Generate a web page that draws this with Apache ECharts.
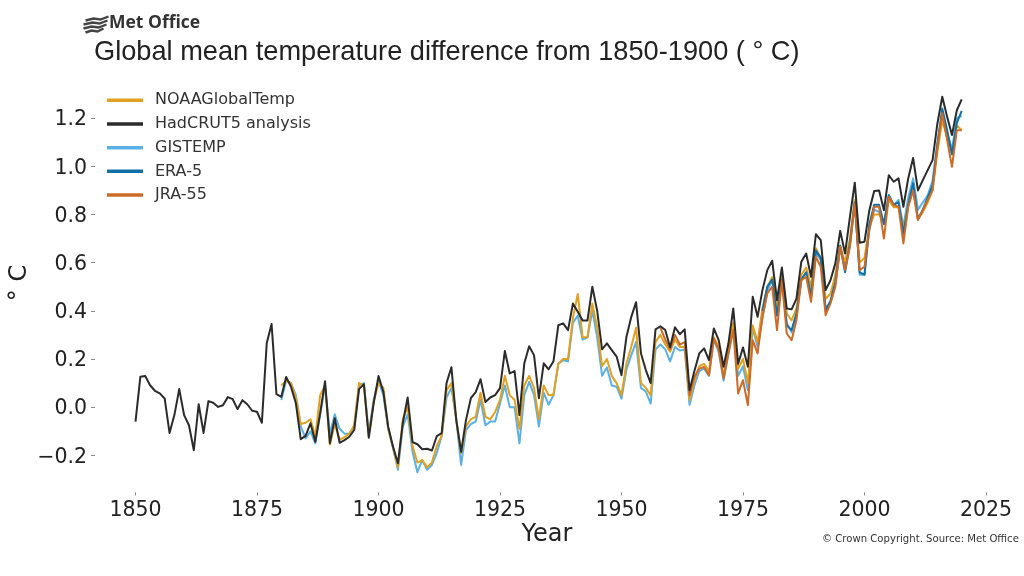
<!DOCTYPE html>
<html><head><meta charset="utf-8">
<style>html,body{margin:0;padding:0;background:#fff}#c{width:1024px;height:576px}</style>
<script src="https://cdn.jsdelivr.net/npm/echarts@6/dist/echarts.min.js"></script>
</head><body><div id="c"></div>
<script>
const hadcrutStart = 1850;
const hadcrut = [
-.06,.126,.129,.091,.068,.057,.036,-.107,-.033,.075,
-.033,-.075,-.179,.012,-.107,.025,.018,.001,.008,.042,
.033,-.008,.029,.012,-.015,-.019,-.065,.265,.345,.054,
.043,.125,.084,.016,-.133,-.119,-.067,-.144,-.025,.108,
-.15,-.046,-.148,-.137,-.123,-.095,.075,.095,-.127,.016,
.129,.064,-.082,-.165,-.233,-.066,.04,-.145,-.154,-.175,
-.173,-.18,-.12,-.108,.1,.166,-.054,-.186,-.054,.037,
.062,.116,.021,.04,.05,.079,.233,.14,.15,-.033,
.182,.253,.216,.037,.182,.157,.19,.34,.348,.32,
.43,.396,.36,.36,.5,.40,.24,.265,.237,.21,
.133,.29,.374,.436,.224,.154,.1,.323,.336,.32,
.249,.332,.303,.323,.07,.15,.223,.244,.195,.327,
.278,.168,.264,.41,.18,.248,.168,.458,.375,.486,
.569,.608,.444,.58,.41,.406,.451,.604,.638,.541,
.718,.694,.486,.527,.597,.732,.638,.79,.932,.683,
.687,.818,.898,.9,.818,.963,.936,.95,.832,.95,
1.035,.9,.943,.984,1.026,1.178,1.289,1.206,1.13,1.233,
1.278];
const noaaStart = 1880;
const noaa = [
.09,.11,.10,.04,-.07,-.065,-.05,-.12,.05,.09,
-.155,-.07,-.135,-.125,-.11,-.075,.10,.09,-.12,.02,
.10,.08,-.09,-.17,-.25,-.05,.0,-.16,-.23,-.22,
-.25,-.23,-.16,-.12,.07,.10,-.05,-.19,-.08,-.05,
-.04,.06,-.04,-.05,-.02,.03,.13,.05,.03,-.09,
.09,.13,.08,-.05,.09,.05,.05,.18,.20,.20,
.37,.47,.29,.29,.43,.33,.17,.20,.13,.10,
.05,.18,.25,.33,.10,.08,.05,.27,.30,.26,
.23,.28,.25,.25,.03,.11,.17,.18,.15,.29,
.25,.13,.24,.35,.16,.20,.10,.34,.27,.41,
.50,.54,.42,.54,.39,.36,.41,.55,.58,.50,
.66,.62,.45,.47,.55,.67,.60,.70,.86,.60,
.62,.75,.80,.80,.77,.86,.83,.83,.74,.84,
.90,.78,.81,.85,.90,1.06,1.19,1.12,1.05,1.17,
1.15];
const gistempStart = 1880;
const gistemp = [
.03,.11,.10,.05,-.08,-.13,-.10,-.15,-.03,.09,
-.11,-.03,-.09,-.11,-.11,-.08,.09,.10,-.11,.03,
.11,.05,-.09,-.17,-.26,-.08,-.03,-.185,-.27,-.22,
-.26,-.24,-.19,-.12,.04,.08,-.05,-.24,-.095,-.07,
-.06,.03,-.075,-.06,-.06,.015,.09,.0,.0,-.15,
.05,.105,.05,-.08,.06,.01,.05,.18,.195,.19,
.35,.38,.28,.29,.40,.29,.13,.165,.09,.085,
.035,.155,.215,.27,.08,.065,.015,.24,.26,.24,
.19,.25,.235,.24,.01,.09,.15,.16,.13,.28,
.23,.11,.22,.34,.13,.17,.07,.33,.25,.37,
.48,.53,.39,.53,.35,.31,.38,.53,.56,.47,
.64,.61,.41,.44,.51,.66,.58,.67,.86,.55,
.55,.74,.82,.81,.76,.88,.84,.86,.75,.87,
.95,.82,.85,.88,.94,1.10,1.22,1.14,1.07,1.20,
1.21];
const era5Start = 1979;
const era5 = [
.40,
.50,.53,.38,.53,.34,.32,.39,.53,.56,.46,
.65,.62,.40,.44,.52,.67,.56,.68,.85,.56,
.55,.76,.84,.84,.76,.88,.84,.85,.72,.84,
.93,.78,.82,.87,.92,1.09,1.24,1.15,1.05,1.18,
1.23];
const jra55Start = 1958;
const jra55 = [
.33,.28,
.24,.30,.26,.27,.05,.126,.16,.167,.133,.285,
.237,.119,.223,.32,.057,.112,.008,.278,.223,.375,
.472,.50,.32,.527,.306,.278,.361,.527,.541,.437,
.624,.583,.382,.431,.50,.666,.569,.666,.846,.569,
.583,.735,.832,.832,.70,.874,.839,.832,.68,.832,
.90,.777,.818,.86,.90,1.08,1.22,1.11,.998,1.15,
1.15];
const xTicks = [1850,1875,1900,1925,1950,1975,2000,2025];
const yTicks = [-0.2,0,0.2,0.4,0.6,0.8,1.0,1.2];
const legendOrder = ['NOAAGlobalTemp','HadCRUT5 analysis','GISTEMP','ERA-5','JRA-55'];

const pairs = (start, vals) => vals.map((v,i)=>[start+i,v]);
const line = (name,start,vals,color,z) => ({name,type:'line',data:pairs(start,vals),showSymbol:false,symbol:'none',
  lineStyle:{color,width:2,join:'round'},itemStyle:{color},z,clip:false,animation:false});
const D='DejaVu Sans';
const chart = echarts.init(document.getElementById('c'),null,{renderer:'canvas'});
chart.setOption({
  animation:false,backgroundColor:'#fff',
  title:{text:'Global mean temperature difference from 1850-1900 ( ° C)',left:89,top:34,
    textStyle:{fontFamily:'Liberation Sans',fontSize:27.2,fontWeight:'normal',color:'#222'}},
  legend:{data:legendOrder,orient:'vertical',left:102,top:87,itemWidth:36,itemHeight:3.5,itemGap:7.2,icon:'rect',
    textStyle:{fontFamily:D,fontSize:16,color:'#333',height:16.5,lineHeight:16.5,padding:[0,0,0,7]}},
  grid:{left:135.5,width:850.5,top:70,height:409.4},
  xAxis:{type:'value',min:1850,max:2025,interval:25,offset:13,
    axisLine:{show:false,onZero:false},splitLine:{show:false},
    axisTick:{show:true,length:3,customValues:xTicks,lineStyle:{color:'#888'}},
    axisLabel:{fontFamily:D,fontSize:20.5,color:'#222',margin:8,customValues:xTicks,formatter:v=>String(v)}},
  yAxis:{type:'value',min:-0.3,max:1.4,offset:40.5,
    axisLine:{show:false,onZero:false},splitLine:{show:false},
    axisTick:{show:true,length:4,customValues:yTicks,lineStyle:{color:'#888'}},
    axisLabel:{color:'#222',margin:8,customValues:yTicks,
      rich:{n:{fontFamily:D,fontSize:20.5,color:'#222',padding:[4,0,0,0]}},
      formatter:v=>'{n|'+(v<0?'\u2212':'')+Math.abs(v).toFixed(1)+'}'}},
  series:[
    line('GISTEMP',gistempStart,gistemp,'#5AB0E4',3),
    line('NOAAGlobalTemp',noaaStart,noaa,'#E0A020',4),
    line('ERA-5',era5Start,era5,'#1070A5',5),
    line('JRA-55',jra55Start,jra55,'#CC6A28',6),
    line('HadCRUT5 analysis',hadcrutStart,hadcrut,'#2b2b2b',7)
  ],
  graphic:[
    {type:'text',left:109,top:14,style:{text:'Met Office',fontFamily:'Open Sans',fontSize:17.5,fontWeight:'bold',fill:'#333',letterSpacing:-1}},
    {type:'text',left:822,top:534,style:{text:'© Crown Copyright. Source: Met Office',fontFamily:D,fontSize:10.1,fill:'#333'}},
    {type:'text',x:547,y:535,style:{text:'Year',align:'center',verticalAlign:'middle',fontFamily:D,fontSize:24,fill:'#222'}},
    {type:'text',x:20,y:283,rotation:Math.PI/2,style:{text:'° C',align:'center',verticalAlign:'middle',fontFamily:D,fontSize:24,fill:'#222'}},
    {type:'group',left:81,top:14,children:[
      {type:'polyline',shape:{points:[[2,4],[10,2],[17,3],[25,0]]},style:{stroke:'#444',lineWidth:2.4,fill:'none'}},
      {type:'polyline',shape:{points:[[0,8],[9,6],[16,7],[24,4]]},style:{stroke:'#444',lineWidth:2.4,fill:'none'}},
      {type:'polyline',shape:{points:[[0,12],[8,10],[15,11],[23,8]]},style:{stroke:'#444',lineWidth:2.4,fill:'none'}},
      {type:'polyline',shape:{points:[[2,16],[8,14],[14,15],[20,12]]},style:{stroke:'#444',lineWidth:2.4,fill:'none'}}
    ]}
  ]
});
</script></body></html>
